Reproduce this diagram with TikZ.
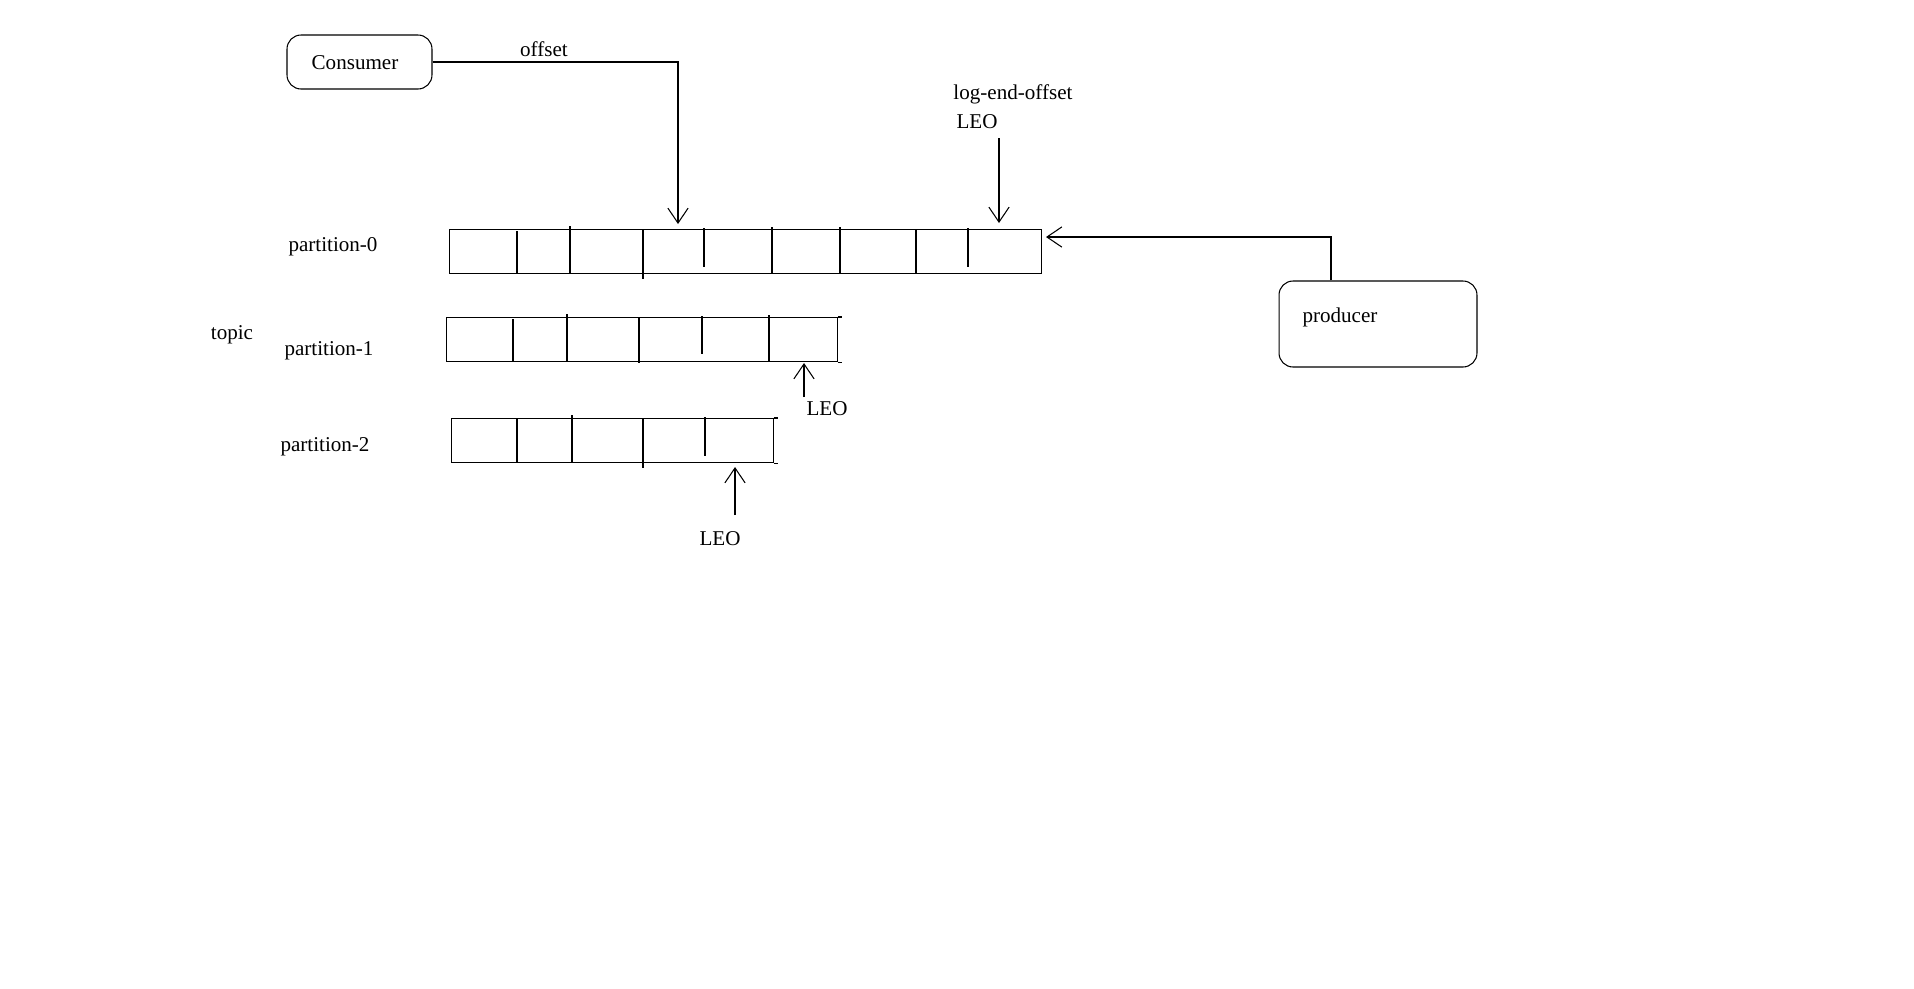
\documentclass[tikz,border=0pt]{standalone}
\usepackage{fontspec}
\setmainfont{Liberation Serif}
\usetikzlibrary{arrows.meta,calc}
\tikzset{
  rbox/.style={draw, rounded corners=0.28cm, inner sep=0pt},
  logbox/.style={draw, inner sep=0pt, anchor=north west, minimum height=0.88cm},
  arr/.style={-{Straight Barb[length=8.5pt,width=11.5pt]}},
}
\begin{document}
\begin{tikzpicture}[x=0.02cm, y=-0.02cm, line width=0.6pt,
    font=\fontsize{12pt}{14pt}\selectfont]
  \useasboundingbox (0,0) rectangle (1914,988);
  % consumer ve producer
  \node[rbox, minimum width=2.9cm, minimum height=1.08cm] (cons) at (359.5,62) {};
  \node (conslbl) at (355,63) {Consumer};
  \node[rbox, minimum width=3.96cm, minimum height=1.72cm] (prod) at (1378,324) {};
  \node (prodlbl) at (1340,317) {producer};
  % etiketler
  \node (offlbl) at (544,49) {offset};
  \node (leolong) at (1013,94) {log-end-offset};
  \node (leo0) at (977,122) {LEO};
  \node (topic) at (232,335) {topic};
  \node (part0) at (333,247) {partition-0};
  \node (part1) at (329,351) {partition-1};
  \node (part2) at (325,447) {partition-2};
  \node (leo1) at (827,409) {LEO};
  \node (leo2) at (720,539) {LEO};
  % partition kutulari
  \node[logbox, minimum width=11.84cm] (p0) at (449,229) {};
  \foreach \x/\a/\b in {517/231/273, 570/226/273, 643/229/279, 704/228/267,
                        772/227/273, 840/227/273, 916/229/273, 968/228/267}
    \draw (\x,\a) -- (\x,\b);
  \node[logbox, minimum width=7.82cm] (p1) at (446,317) {};
  \foreach \x/\a/\b in {513/319/361, 567/314/361, 639/317/363, 702/316/354, 769/315/361}
    \draw (\x,\a) -- (\x,\b);
  \draw (p1.north east) -- ++(4,0) (p1.south east) -- ++(4,0);
  \node[logbox, minimum width=6.44cm] (p2) at (451,418) {};
  \foreach \x/\a/\b in {517/418/462, 572/415/462, 643/418/468, 705/417/456}
    \draw (\x,\a) -- (\x,\b);
  \draw (p2.north east) -- ++(4,0) (p2.south east) -- ++(4,0);
  % oklar
  \coordinate (offtip) at (678,224);
  \coordinate (leo0top) at (999,138);
  \coordinate (leo0tip) at (999,223);
  \coordinate (prodtip) at (1046,237);
  \coordinate (leo1bot) at (804,397);
  \coordinate (leo1tip) at (804,363);
  \coordinate (leo2bot) at (735,515);
  \coordinate (leo2tip) at (735,467);
  \draw[arr] (cons.east) -| (offtip);
  \draw[arr] (leo0top) -- (leo0tip);
  \draw[arr] ($(prod.north)+(-47,0)$) |- (prodtip);
  \draw[arr] (leo1bot) -- (leo1tip);
  \draw[arr] (leo2bot) -- (leo2tip);
\end{tikzpicture}
\end{document}
